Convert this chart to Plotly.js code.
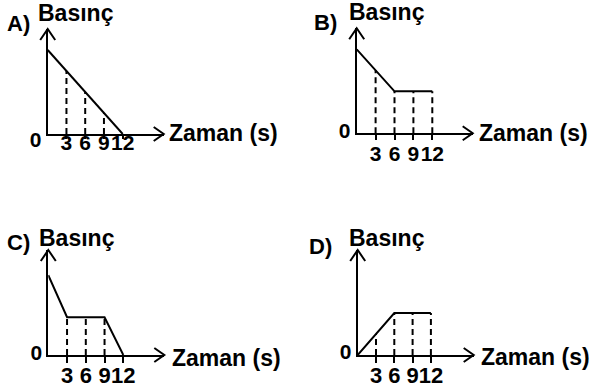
<!DOCTYPE html>
<html>
<head>
<meta charset="utf-8">
<script src="https://cdn.plot.ly/plotly-3.0.1.min.js"></script>
<style>
body { margin: 0; background: #fff; }
#myDiv { width: 595px; height: 389px; }
</style>
</head>
<body>
<div id="myDiv"></div>
<script>
var timeVals = [0, 3, 6, 9, 12];
var tickVals = [3, 6, 9, 12];
var tickLabels = ["3", "6", "9", "12"];
var pressureA = [4, 3, 2, 1, 0];
var pressureB = [4, 3, 2, 2, 2];
var pressureC = [3.8, 1.8, 1.8, 1.8, 0];
var pressureD = [0, 1, 2, 2, 2];
var panelNames = ["A)", "B)", "C)", "D)"];
var yLabel = "Basınç";
var xLabel = "Zaman (s)";
var zeroLabel = "0";

var W = 595, H = 389;
var FONT = "Liberation Sans, Arial, Helvetica, sans-serif";
var axLenX = 116, axLenY = 105;

// where each little chart sits on the page (pixels)
var panels = [{
    vals: pressureA, ox: 47.7, oy: 134, sx: 6.25, sy: 21,
    letter: [6, 23.5], ylab: [37, 13.3], xlab: [168, 132.5],
    ticklen: 3, standoff: -14, zshift: 6, tsize: 21
}, {
    vals: pressureB, ox: 356.7, oy: 133.3, sx: 6.3, sy: 21,
    letter: [313, 22.5], ylab: [348, 12], xlab: [478, 133],
    ticklen: 5, standoff: -5, zshift: -3, tsize: 21
}, {
    vals: pressureC, ox: 48.3, oy: 355, sx: 6.25, sy: 21,
    letter: [6, 243], ylab: [38, 238.3], xlab: [171, 358],
    ticklen: 6, standoff: -6, zshift: -2, tsize: 22
}, {
    vals: pressureD, ox: 357.7, oy: 355, sx: 6.1, sy: 21,
    letter: [308, 247], ylab: [348, 238], xlab: [479.5, 357],
    ticklen: 6, standoff: -6, zshift: -3, tsize: 22
}];

var px = function(x) { return x / W; }
var py = function(y) { return 1 - y / H; }

var data = [];
var layout = {
    width: W,
    height: H,
    margin: {l: 0, r: 0, t: 0, b: 0},
    paper_bgcolor: "#fff",
    plot_bgcolor: "rgba(0,0,0,0)",
    showlegend: false,
    shapes: [],
    annotations: [],
};

var boldFont = function(size) {
    return {family: FONT, size: size, color: "#000", weight: "bold"};
}

panels.forEach(function(p, i) {
    var n = i == 0 ? "" : String(i + 1);

    // dashed drop lines under every tick where the curve is above zero
    var dx = [], dy = [];
    tickVals.forEach(function(t) {
        var v = p.vals[timeVals.indexOf(t)];
        if (v > 0) {
            dx.push(t, t, null);
            dy.push(0, v, null);
        }
    });
    data.push({
        x: dx, y: dy, xaxis: "x" + n, yaxis: "y" + n,
        mode: "lines", type: "scatter", hoverinfo: "skip",
        line: {color: "#000", width: 2, dash: "6px,4px"}
    });
    data.push({
        x: timeVals, y: p.vals, xaxis: "x" + n, yaxis: "y" + n,
        mode: "lines", type: "scatter", hoverinfo: "skip",
        line: {color: "#000", width: 2}
    });

    layout["xaxis" + n] = {
        domain: [px(p.ox), px(p.ox + axLenX)],
        range: [0, axLenX / p.sx],
        anchor: "y" + n,
        showline: true, linewidth: 2, linecolor: "#000",
        showgrid: false, zeroline: false,
        tickmode: "array", tickvals: tickVals, ticktext: tickLabels,
        ticks: "outside", ticklen: p.ticklen, tickwidth: 2, tickcolor: "#000",
        tickangle: 0, ticklabelstandoff: p.standoff,
        tickfont: boldFont(p.tsize),
        fixedrange: true,
    };
    layout["yaxis" + n] = {
        domain: [py(p.oy), py(p.oy - axLenY)],
        range: [0, axLenY / p.sy],
        anchor: "x" + n,
        showline: true, linewidth: 2, linecolor: "#000",
        showgrid: false, zeroline: false,
        tickmode: "array", tickvals: [0], ticktext: [zeroLabel],
        ticks: "", tickfont: boldFont(21), ticklabelshift: p.zshift,
        fixedrange: true,
    };

    // open arrow heads at the ends of both axes
    var tx = p.ox + axLenX, ty = p.oy - axLenY;
    layout.shapes.push({
        type: "path", xref: "paper", yref: "paper",
        path: "M" + px(tx - 10) + "," + py(p.oy - 7) + "L" + px(tx) + "," + py(p.oy) +
            "L" + px(tx - 10) + "," + py(p.oy + 7),
        line: {color: "#000", width: 2}
    });
    layout.shapes.push({
        type: "path", xref: "paper", yref: "paper",
        path: "M" + px(p.ox - 7.5) + "," + py(ty + 11) + "L" + px(p.ox) + "," + py(ty) +
            "L" + px(p.ox + 7.5) + "," + py(ty + 11),
        line: {color: "#000", width: 2}
    });

    var labels = [[panelNames[i], p.letter, 22], [yLabel, p.ylab, 23], [xLabel, p.xlab, 23]];
    labels.forEach(function(l) {
        layout.annotations.push({
            text: l[0], xref: "paper", yref: "paper",
            x: px(l[1][0]), y: py(l[1][1]),
            xanchor: "left", yanchor: "middle",
            showarrow: false, borderpad: 0,
            font: boldFont(l[2])
        });
    });
});

Plotly.newPlot("myDiv", data, layout, {staticPlot: true, displayModeBar: false});
</script>
</body>
</html>
